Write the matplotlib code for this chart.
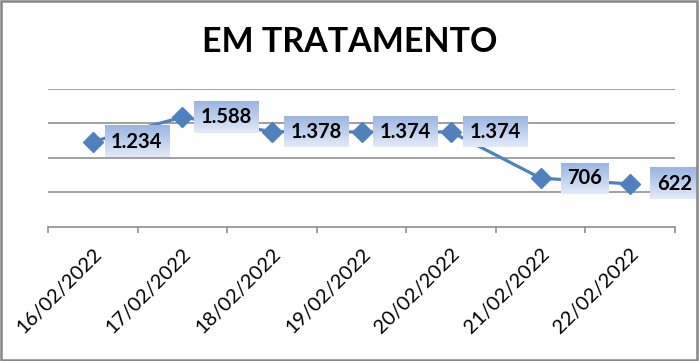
import numpy as np
import matplotlib
matplotlib.use("Agg")
import matplotlib.pyplot as plt
from matplotlib.patches import Rectangle

dates = ["16/02/2022", "17/02/2022", "18/02/2022", "19/02/2022",
         "20/02/2022", "21/02/2022", "22/02/2022"]
em_tratamento = [1234, 1588, 1378, 1374, 1374, 706, 622]
labels = ["1.234", "1.588", "1.378", "1.374", "1.374", "706", "622"]

plt.rcParams['font.family'] = ['Lato', 'DejaVu Sans']

fig = plt.figure(figsize=(6.99, 3.61), dpi=100)
ax = fig.add_axes([48/699, 1 - 227/361, 627/699, (227 - 88.6)/361])

gray = '#868686'
blue = '#4F81BD'
x = np.arange(len(dates))

ax.plot(x, em_tratamento, color=blue, lw=2.3, marker='D', ms=10,
        markeredgecolor=blue, zorder=2, clip_on=False)

ax.set_xlim(-0.5, len(dates) - 0.5)
ax.set_ylim(0, 2000)
ax.set_yticks([500, 1000, 1500, 2000])
ax.yaxis.grid(True, color=gray, lw=1.1)
ax.tick_params(axis='y', length=0, labelleft=False)
ax.set_axisbelow(True)
for s in ['left', 'right', 'top']:
    ax.spines[s].set_visible(False)
ax.spines['bottom'].set_color(gray)
ax.spines['bottom'].set_linewidth(1.1)

# boundary ticks (major) and centred labels (minor)
ax.set_xticks(np.arange(-0.5, len(dates), 1.0))
ax.tick_params(axis='x', which='major', length=4.5, color=gray, width=1.1,
               labelbottom=False)
ax.set_xticks(x, minor=True)
ax.set_xticklabels(dates, minor=True, rotation=45, ha='right',
                   rotation_mode='anchor', fontsize=14.5)
ax.tick_params(axis='x', which='minor', length=0, pad=13)

fig.text(0.5, 1 - 42/361, "EM TRATAMENTO", ha='center', va='center',
         fontsize=24.5, fontweight='bold')

# data labels, to the right of each point
texts = []
for xi, yi, lab in zip(x, em_tratamento, labels):
    t = ax.annotate(lab, (xi, yi), xytext=(44, 0), textcoords='offset pixels',
                    ha='center', va='center', fontsize=14.5,
                    fontweight='bold', zorder=4)
    texts.append(t)

fig.canvas.draw()
grad = np.linspace(0, 1, 64)[:, None, None]
top = np.array([0.60, 0.71, 0.88])
bot = np.array([0.89, 0.92, 0.97])
img = top * (1 - grad) + bot * grad
inv = ax.transData.inverted()
for t in texts:
    bb = t.get_window_extent()
    cx = (bb.x0 + bb.x1) / 2
    cy = (bb.y0 + bb.y1) / 2
    w = bb.width + 13
    h = 31
    (x0, y0) = inv.transform((cx - w/2, cy - h/2))
    (x1, y1) = inv.transform((cx + w/2, cy + h/2))
    ax.imshow(img, extent=(x0, x1, y0, y1), aspect='auto', zorder=3,
              interpolation='bilinear', clip_on=False)

ax.set_xlim(-0.5, len(dates) - 0.5)
ax.set_ylim(0, 2000)

fig.patches.append(Rectangle((0.002, 0.003), 0.995, 0.993, transform=fig.transFigure,
                             fill=False, edgecolor=gray, lw=1.8))

fig.savefig("out.png", dpi=100)
